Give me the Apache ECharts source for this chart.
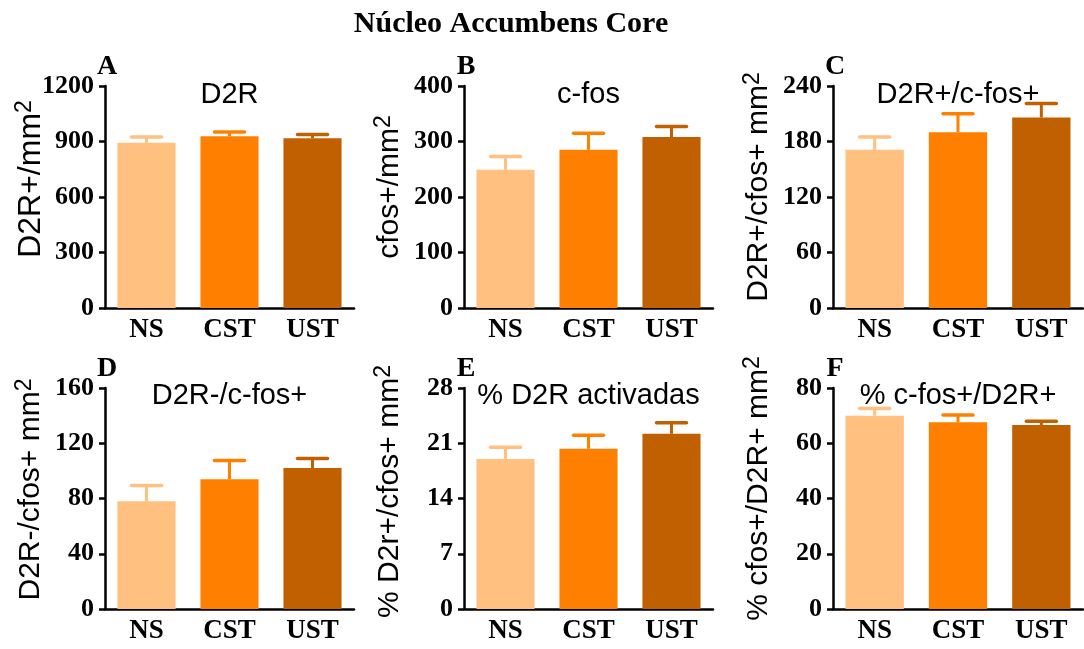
<!DOCTYPE html>
<html><head><meta charset="utf-8">
<script src="https://cdn.jsdelivr.net/npm/echarts@6/dist/echarts.min.js"></script>
<style>html,body{margin:0;padding:0;background:#fff}#c{width:1084px;height:649px}</style>
</head><body><div id="c"></div>
<script>
// ---- data ----
const categories = ['NS', 'CST', 'UST'];
const barColors = ['#FFC080', '#FF8000', '#C06000'];
const meanD2R = [893, 928, 918];
const semD2R = [32, 24, 20];
const meanCfos = [249, 285, 308];
const semCfos = [24, 30, 19];
const meanD2RposCfos = [171, 190, 206];
const semD2RposCfos = [14, 20, 15];
const meanD2RnegCfos = [78, 94, 102];
const semD2RnegCfos = [11.5, 13.5, 7];
const meanPctD2R = [19.0, 20.3, 22.2];
const semPctD2R = [1.5, 1.7, 1.4];
const meanPctCfos = [70.0, 67.6, 66.6];
const semPctCfos = [2.6, 2.6, 1.4];
const yMax = [1200, 400, 240, 160, 28, 80];
const yInterval = [300, 100, 60, 40, 7, 20];
const panelLetters = ['A', 'B', 'C', 'D', 'E', 'F'];
const panelTitles = ['D2R', 'c-fos', 'D2R+/c-fos+', 'D2R-/c-fos+', '% D2R activadas', '% c-fos+/D2R+'];
const yNames = ['D2R+/mm', 'cfos+/mm', 'D2R+/cfos+ mm', 'D2R-/cfos+ mm', '% D2r+/cfos+ mm', '% cfos+/D2R+ mm'];
const mainTitle = 'Núcleo Accumbens Core';

const means = [meanD2R, meanCfos, meanD2RposCfos, meanD2RnegCfos, meanPctD2R, meanPctCfos];
const sems = [semD2R, semCfos, semD2RposCfos, semD2RnegCfos, semPctD2R, semPctCfos];

// ---- layout ----
const colLeft = [105, 464, 833];
const colWidth = [249, 249, 250];
const rowTop = [86, 388];
const rowHeight = [222, 221];
const namePad = [36, 20, 20, 18, 14, 20];
const nameSize = [32, 30, 30, 30, 30, 30];

const serif = '"Liberation Serif", "Times New Roman", serif';
const sans = '"Liberation Sans", Arial, sans-serif';

const grids = [], xAxes = [], yAxes = [], series = [], titles = [];
titles.push({
  text: mainTitle, left: 511, top: 9, textAlign: 'center', padding: 0,
  textStyle: { fontFamily: serif, fontWeight: 'bold', fontSize: 30, lineHeight: 30, color: '#000' }
});

function errRender(params, api) {
  const i = api.value(0), m = api.value(1), e = api.value(2);
  const p0 = api.coord([i, m]);
  const p1 = api.coord([i, m + e]);
  const col = barColors[i];
  return {
    type: 'group', children: [
      { type: 'line', shape: { x1: p0[0], y1: p0[1], x2: p1[0], y2: p1[1] }, style: { stroke: col, lineWidth: 3 } },
      { type: 'line', shape: { x1: p1[0] - 15, y1: p1[1], x2: p1[0] + 15, y2: p1[1] }, style: { stroke: col, lineWidth: 3.5, lineCap: 'round' } }
    ]
  };
}

for (let k = 0; k < 6; k++) {
  const r = Math.floor(k / 3), c = k % 3;
  const left = colLeft[c], top = rowTop[r], w = colWidth[c], h = rowHeight[r];
  grids.push({ left: left, top: top, width: w, height: h, containLabel: false });
  xAxes.push({
    type: 'category', gridIndex: k, data: categories,
    axisLine: { lineStyle: { color: '#000', width: 2.5 } },
    axisTick: { alignWithLabel: true, length: 6, lineStyle: { color: '#000', width: 2.5 } },
    axisLabel: { margin: 9, color: '#000', fontFamily: serif, fontWeight: 'bold', fontSize: 27 }
  });
  yAxes.push({
    type: 'value', gridIndex: k, min: 0, max: yMax[k], interval: yInterval[k],
    splitLine: { show: false },
    axisLine: { show: true, lineStyle: { color: '#000', width: 2.5 } },
    axisTick: { show: true, length: 6, lineStyle: { color: '#000', width: 2.5 } },
    axisLabel: { margin: 11, color: '#000', fontFamily: serif, fontWeight: 'bold', fontSize: 26,
      formatter: function (v) { return String(v); } },
    name: '{b|' + yNames[k] + '}{s|2}', nameLocation: 'middle', nameGap: 56, nameMoveOverlap: false,
    nameTextStyle: {
      padding: [0, 0, 0, namePad[k]],
      rich: {
        b: { fontFamily: sans, fontSize: nameSize[k], color: '#000', lineHeight: 36 },
        s: { fontFamily: sans, fontSize: 23, color: '#000', verticalAlign: 'top', lineHeight: 36 }
      }
    }
  });
  series.push({
    type: 'bar', xAxisIndex: k, yAxisIndex: k, barWidth: '70%',
    data: means[k].map((v, i) => ({ value: v, itemStyle: { color: barColors[i] } })),
    z: 2
  });
  series.push({
    type: 'custom', xAxisIndex: k, yAxisIndex: k, renderItem: errRender,
    encode: { x: 0, y: 1 },
    data: means[k].map((v, i) => [i, v, sems[k][i]]), z: 3
  });
  titles.push({
    text: panelTitles[k], left: left + w / 2, top: r === 0 ? 80 : 381, textAlign: 'center', padding: 0,
    textStyle: { fontFamily: sans, fontWeight: 'normal', fontSize: 29, lineHeight: 29, color: '#000' }
  });
  titles.push({
    text: panelLetters[k], left: left + 2, top: r === 0 ? 53 : 355, textAlign: 'center', padding: 0,
    textStyle: { fontFamily: serif, fontWeight: 'bold', fontSize: 28, lineHeight: 28, color: '#000' }
  });
}

const chart = echarts.init(document.getElementById('c'), null, { renderer: 'canvas' });
chart.setOption({
  animation: false, backgroundColor: '#fff',
  title: titles, grid: grids, xAxis: xAxes, yAxis: yAxes, series: series
});
</script>
</body></html>
